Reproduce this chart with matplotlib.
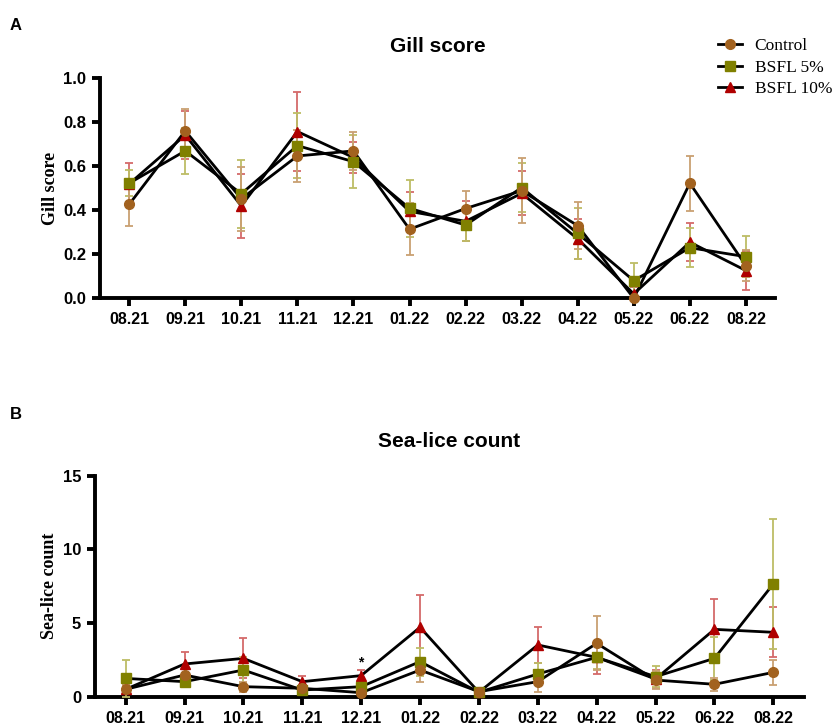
import matplotlib.pyplot as plt
from matplotlib.lines import Line2D
import numpy as np

months = ['08.21', '09.21', '10.21', '11.21', '12.21', '01.22',
          '02.22', '03.22', '04.22', '05.22', '06.22', '08.22']
groups = ['Control', 'BSFL 5%', 'BSFL 10%']

# gill score, mean and sd
gill_ctrl = [0.427, 0.761, 0.452, 0.647, 0.670, 0.314, 0.408, 0.489, 0.330, 0.0, 0.523, 0.148]
gill_ctrl_sd = [0.10, 0.098, 0.145, 0.12, 0.085, 0.117, 0.08, 0.147, 0.106, 0.0, 0.126, 0.07]
gill_b5 = [0.523, 0.670, 0.475, 0.694, 0.621, 0.409, 0.333, 0.503, 0.295, 0.080, 0.230, 0.189]
gill_b5_sd = [0.06, 0.106, 0.155, 0.147, 0.12, 0.13, 0.073, 0.11, 0.115, 0.079, 0.088, 0.094]
gill_b10 = [0.52, 0.742, 0.420, 0.758, 0.640, 0.395, 0.350, 0.477, 0.270, 0.020, 0.255, 0.126]
gill_b10_sd = [0.095, 0.11, 0.145, 0.18, 0.07, 0.09, 0.09, 0.10, 0.09, 0.03, 0.085, 0.09]

# sea-lice count, mean and sd
lice_ctrl = [0.50, 1.47, 0.68, 0.57, 0.27, 1.81, 0.34, 1.02, 3.62, 1.13, 0.84, 1.65]
lice_ctrl_sd = [0.3, 0.4, 0.35, 0.2, 0.15, 0.8, 0.1, 0.68, 1.83, 0.6, 0.45, 0.84]
lice_b5 = [1.24, 1.02, 1.81, 0.45, 0.68, 2.38, 0.30, 1.54, 2.67, 1.36, 2.60, 7.65]
lice_b5_sd = [1.25, 0.3, 0.9, 0.2, 0.3, 0.95, 0.1, 0.77, 0.8, 0.7, 1.47, 4.41]
lice_b10 = [0.50, 2.22, 2.60, 1.02, 1.43, 4.71, 0.30, 3.51, 2.67, 1.20, 4.57, 4.37]
lice_b10_sd = [0.3, 0.8, 1.36, 0.38, 0.38, 2.2, 0.1, 1.24, 1.1, 0.6, 2.06, 1.7]

colors = ['#A2621F', '#808000', '#B00000']
err_colors = ['#C9A072', '#BDBD66', '#D46A6A']
markers = ['o', 's', '^']

sans = 'Liberation Sans'
serif = 'Liberation Serif'


def panel(ax, means, sds, ylabel, yticks, ylim, fmt, title_pad):
    x = np.arange(len(months))
    order = [2, 1, 0]  # control ends up on top
    for i in order:
        ax.plot(x, means[i], color='black', lw=2, zorder=2)
    for i in order:
        ax.errorbar(x, means[i], yerr=sds[i], fmt='none', ecolor=err_colors[i],
                    elinewidth=1.3, capsize=3.2, capthick=1.3, zorder=3)
    for k, i in enumerate(order):
        ax.plot(x, means[i], ls='none', marker=markers[i], ms=7,
                color=colors[i], mec=colors[i], zorder=4 + k, clip_on=False)
    ax.set_xlim(-0.52, len(months) - 0.48)
    ax.set_ylim(*ylim)
    ax.set_xticks(x)
    ax.set_xticklabels(months, fontfamily=sans, fontweight='bold', fontsize=11.5)
    ax.set_yticks(yticks)
    ax.set_yticklabels([fmt.format(t) for t in yticks],
                       fontfamily=sans, fontweight='bold', fontsize=12)
    for s in ['top', 'right']:
        ax.spines[s].set_visible(False)
    for s in ['left', 'bottom']:
        ax.spines[s].set_linewidth(2.8)
    ax.tick_params(width=2.8, length=6, pad=4)
    ax.set_ylabel(ylabel, fontfamily=serif, fontweight='bold', fontsize=13, labelpad=3)
    ax.set_title(ylabel, fontfamily=sans, fontweight='bold', fontsize=15, pad=title_pad)


fig = plt.figure(figsize=(8.37, 7.27), dpi=100)
ax1 = fig.add_axes([0.1195, 0.5897, 0.8065, 0.3026])
ax2 = fig.add_axes([0.1135, 0.0417, 0.847, 0.304])

panel(ax1, [gill_ctrl, gill_b5, gill_b10], [gill_ctrl_sd, gill_b5_sd, gill_b10_sd],
      'Gill score', [0, 0.2, 0.4, 0.6, 0.8, 1.0], (0, 1.0), '{:.1f}', 19)
panel(ax2, [lice_ctrl, lice_b5, lice_b10], [lice_ctrl_sd, lice_b5_sd, lice_b10_sd],
      'Sea-lice count', [0, 5, 10, 15], (0, 15), '{:g}', 20.5)

# significance mark at 12.21
ax2.text(4, lice_b10[4] + 0.45, '*', ha='center', va='bottom', fontsize=10,
         fontfamily=sans, fontweight='bold')

fig.text(0.012, 0.975, 'A', fontfamily=sans, fontweight='bold', fontsize=12, va='top')
fig.text(0.012, 0.44, 'B', fontfamily=sans, fontweight='bold', fontsize=12, va='top')

handles = [Line2D([], [], color='black', lw=2, marker=markers[i], ms=7,
                  mfc=colors[i], mec=colors[i]) for i in range(3)]
fig.legend(handles, groups, loc='upper left', bbox_to_anchor=(0.858, 0.948),
           frameon=False, prop={'family': serif, 'size': 12.5}, handlelength=1.4,
           handletextpad=0.7, labelspacing=0.32, borderaxespad=0, borderpad=0)

fig.savefig('out.png', dpi=100)
